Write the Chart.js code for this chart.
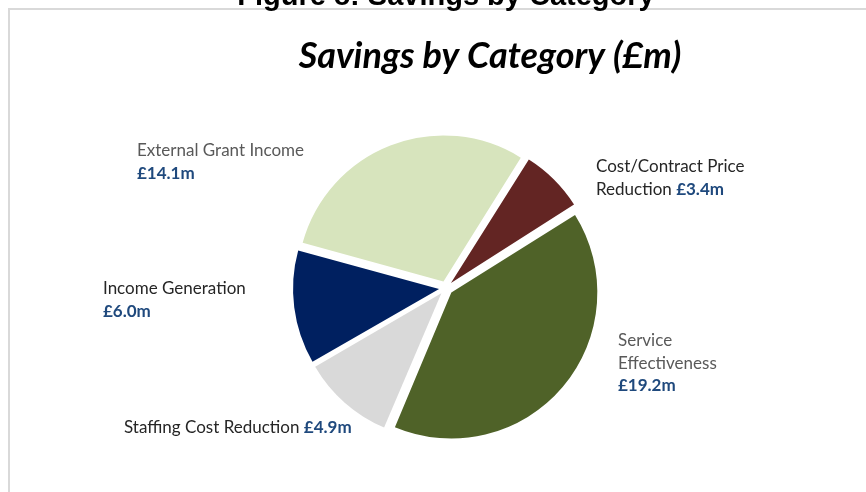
<!DOCTYPE html>
<html>
<head>
<meta charset="utf-8">
<title>Savings by Category</title>
<script src="https://cdn.jsdelivr.net/npm/chart.js@4.4.1/dist/chart.umd.min.js"></script>
<style>
  body { margin: 0; background: #fff; overflow: hidden; }
  #savingsChart { display: block; }
</style>
</head>
<body>
<canvas id="savingsChart" width="866" height="492"></canvas>
<script>
// savings per category, in £m
const categories = ['Cost/Contract Price Reduction', 'Service Effectiveness', 'Staffing Cost Reduction', 'Income Generation', 'External Grant Income'];
const savings = [3.4, 19.2, 4.9, 6.0, 14.1];
const sliceColours = ['#632523', '#4F6228', '#D9D9D9', '#002060', '#D7E4BD'];

// where each category label sits and how its words wrap
const labelSpots = [
    { x: 596, y: 167, words: [2, 1], inline: true, colour: '#262626' },
    { x: 618, y: 341, words: [1, 1], inline: false, colour: '#595959' },
    { x: 124, y: 428, words: [3], inline: true, colour: '#262626' },
    { x: 103, y: 289, words: [2], inline: false, colour: '#262626' },
    { x: 137, y: 151, words: [3], inline: false, colour: '#595959' }
];

const valueColour = '#1F497D';
const labelFont = '17px Lato';
const valueFont = 'bold 17px Lato';
const lineGap = 22.5;
const explode = 28; // arcs get pushed out by a quarter of this

const money = v => '£' + v.toFixed(1) + 'm';

const decorations = {
    id: 'decorations',
    afterDatasetsUpdate(chart) {
        // chart.js grows narrow exploded arcs a little; keep every slice the same radius
        chart.getDatasetMeta(0).data.forEach(arc => {
            const grow = (explode / 4) * (1 - Math.sin(Math.min(Math.PI, arc.circumference)));
            arc.outerRadius -= grow;
        });
    },
    beforeDraw(chart) {
        const ctx = chart.ctx;
        ctx.save();
        // outer frame
        ctx.strokeStyle = '#D9D9D9';
        ctx.lineWidth = 2;
        ctx.strokeRect(9, 9, 1000, 1000);

        ctx.fillStyle = '#000';
        ctx.textAlign = 'center';
        ctx.textBaseline = 'alphabetic';
        ctx.font = 'bold 29px "Liberation Sans"';
        ctx.fillText('Figure 8: Savings by Category', 446, 5);
        ctx.font = 'italic bold 36px Lato';
        ctx.fillText('Savings by Category (£m)', 490, 68);
        ctx.restore();
    },
    afterDraw(chart) {
        const ctx = chart.ctx;
        ctx.save();
        ctx.textAlign = 'left';
        ctx.textBaseline = 'middle';
        labelSpots.forEach((spot, i) => {
            const parts = categories[i].split(' ');
            let y = spot.y;
            let used = 0;
            let lastWidth = 0;
            spot.words.forEach(n => {
                const line = parts.slice(used, used + n).join(' ');
                used += n;
                ctx.font = labelFont;
                ctx.fillStyle = spot.colour;
                ctx.fillText(line, spot.x, y);
                lastWidth = ctx.measureText(line + ' ').width;
                y += lineGap;
            });
            ctx.font = valueFont;
            ctx.fillStyle = valueColour;
            if (spot.inline) {
                ctx.fillText(money(savings[i]), spot.x + lastWidth, y - lineGap);
            } else {
                ctx.fillText(money(savings[i]), spot.x, y);
            }
        });
        ctx.restore();
    }
};

const ctx = document.getElementById('savingsChart').getContext('2d');

new Chart(ctx, {
    type: 'pie',
    data: {
        labels: categories,
        datasets: [{
            data: savings,
            backgroundColor: sliceColours,
            borderWidth: 0,
            offset: explode
        }]
    },
    options: {
        responsive: false,
        animation: false,
        events: [],
        rotation: 32,
        radius: 146,
        layout: {
            padding: { left: 296, right: 270, top: 138, bottom: 54 }
        },
        plugins: {
            legend: { display: false },
            tooltip: { enabled: false }
        }
    },
    plugins: [decorations]
});
</script>
</body>
</html>
